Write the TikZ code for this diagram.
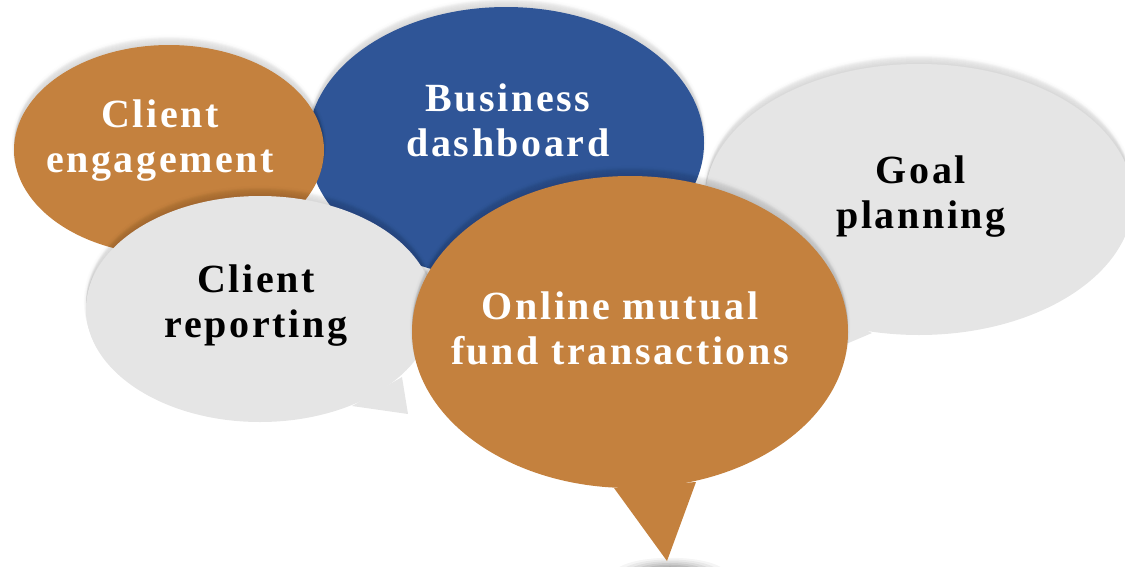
\documentclass[tikz,border=0pt]{standalone}
\usepackage{fontspec}
\setmainfont{Liberation Serif}[LetterSpace=6.5]
\definecolor{orangeb}{RGB}{196,129,62}
\definecolor{blueb}{RGB}{47,85,151}
\definecolor{grayb}{RGB}{229,229,229}
\tikzset{
  softedge/.style={fill=black,fill opacity=0.018,draw=none},
  label/.style={font=\fontsize{40}{45}\selectfont\bfseries,align=center,inner sep=0pt},
  whitetext/.style={label,text=white},
  blacktext/.style={label,text=black}
}
\newcommand{\bubble}[3]{%
  \foreach \k in {1,2,...,8}{
    \begin{scope}[yshift=\k pt]
      \path[softedge] #2;
      \draw[draw=black,draw opacity=0.006,line width=\k*0.6 pt] #2;
    \end{scope}
  }
  \fill[#1] #2;
  \fill[#1] #3;
}
\begin{document}
\begin{tikzpicture}[x=1pt,y=-1pt]
\useasboundingbox (0,0) rectangle (1125,566);
\begin{scope}
  \clip (0,0) rectangle (1125,566);
  \foreach \r/\o in {56/0.04,50/0.05,44/0.06,38/0.07,32/0.08,26/0.09}{
    \fill[black,opacity=\o] (670,574) ellipse [x radius=\r, y radius=\r*0.29];
  }
  \bubble{grayb}{(919,199.5) ellipse [x radius=214, y radius=135.5]}{(872,333) -- (780,372) -- (760,280) -- cycle}
  \bubble{blueb}{(506,143) ellipse [x radius=198, y radius=136]}{(506,143) -- (506,143) -- cycle}
  \bubble{orangeb}{(169,150) ellipse [x radius=155, y radius=105]}{(169,150) -- (169,150) -- cycle}
  \bubble{grayb}{(260,309) ellipse [x radius=174, y radius=113]}{(352,406) -- (408,414) -- (402,377) -- cycle}
  \bubble{orangeb}{(630,332) ellipse [x radius=218, y radius=156]}{(614,488) -- (667,561) -- (696,482) -- cycle}
\end{scope}
\node[whitetext] (engagement) at (160,141) {Client\\engagement};
\node[whitetext] (dashboard) at (508,120) {Business\\dashboard};
\node[blacktext] (goal) at (921,197) {Goal\\planning};
\node[blacktext] (reporting) at (256,306) {Client\\reporting};
\node[whitetext] (online) at (620,328) {Online mutual\\fund transactions};
\end{tikzpicture}
\end{document}
